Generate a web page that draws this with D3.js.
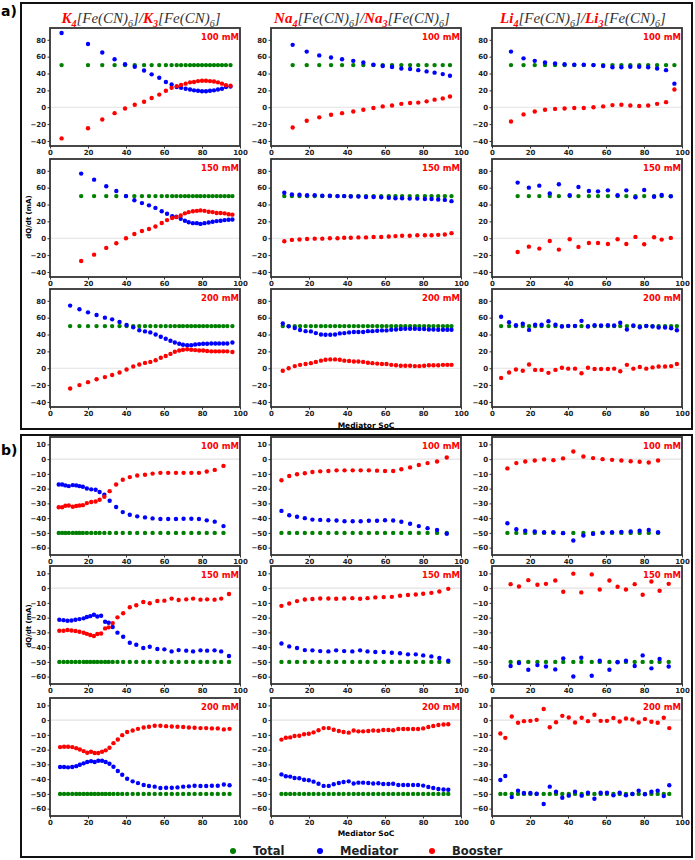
<!DOCTYPE html>
<html>
<head>
<meta charset="utf-8">
<script src="https://cdn.jsdelivr.net/npm/d3@7"></script>
<style>
  body { margin: 0; background: #fff; }
  svg text { font-family: "DejaVu Sans", sans-serif; }
</style>
</head>
<body>
<svg id="fig" width="695" height="860"></svg>
<script>
// ---- data ----
const salts = ['K', 'Na', 'Li']
const concs = ['100 mM', '150 mM', '200 mM']
const seriesNames = ['Total', 'Mediator', 'Booster']
const xTicks = [0, 20, 40, 60, 80, 100]
const yTicksCharge = [-40, -20, 0, 20, 40, 60, 80]
const yTicksDischarge = [-60, -50, -40, -30, -20, -10, 0, 10]
const totalCharge = 50
const totalDischarge = -50

// a) charge -- K
const socK100c = [6.1, 20, 27.5, 34, 39.5, 44.6, 49.5, 53.5, 57.5, 61, 64, 66.7, 69, 71.4, 73.7, 75.8, 77.9, 80, 82.1, 84.2, 86.3, 88.4, 90.5, 92.6, 95]
const medK100c = [88, 75, 65, 57, 51, 48, 43.5, 39, 35, 30, 27, 24, 23, 22, 21, 20, 19.5, 19, 19, 19.5, 20, 21, 22, 24, 24.5]
const booK100c = [-37, -25, -14.5, -7, -1.5, 3, 6.5, 11, 15, 19.5, 23, 25, 26.5, 28, 29.5, 30, 31, 31.5, 31.5, 31, 30.5, 29.5, 28, 26, 25.5]
const socK150c = [16.4, 23.2, 29.6, 34.9, 40, 44.4, 48.4, 52.1, 55.5, 58.8, 61.6, 64.3, 66.5, 68.8, 71, 73, 75.2, 77.3, 79.2, 81.3, 83.5, 85.6, 87.7, 89.8, 91.9, 94, 96]
const medK150c = [76.7, 69.5, 61.6, 56, 50, 45, 41.7, 39, 36, 32, 29, 26, 25.4, 23, 20.7, 19, 17.9, 17.9, 17, 17.9, 18.7, 19.5, 20.3, 20.7, 21.5, 22, 22.2]
const booK150c = [-27, -19.5, -11.5, -6, 0, 5, 8.5, 11, 14, 18, 21.5, 24, 25, 27, 29.5, 31, 32, 32.5, 33, 32.5, 31.5, 31, 30, 30, 29.5, 28.5, 28]
const socK200c = [10.6, 15.5, 20, 24.5, 28.9, 32.7, 36.6, 40.3, 43.8, 47, 50, 52.8, 55.6, 58.3, 60.9, 63.4, 65.7, 68, 70, 72.2, 74.3, 76.4, 78.5, 80.6, 82.7, 84.9, 87, 89, 91.2, 93.3, 96]
const medK200c = [74.3, 70, 66.3, 63.2, 60, 58, 54.8, 51.3, 48.5, 45, 43.7, 42.5, 40, 37.3, 35, 32.6, 30.6, 29, 27.8, 27.4, 27.4, 28.2, 28.6, 29, 29, 29.4, 29.4, 29.4, 29.4, 29.4, 30.6]
const booK200c = [-24, -20, -16.5, -13, -10.5, -8, -5, -1.5, 2, 4.5, 6.3, 7.5, 9.5, 12.5, 14.5, 17, 19.5, 21, 22, 22.5, 22, 21.5, 21, 21, 20.5, 20, 20, 20, 20, 20, 19.3]

// a) charge -- Na
const socNa100c = [11.4, 18.8, 25.4, 31.6, 37.4, 43.3, 48.6, 53.9, 58.8, 63.7, 68.6, 73.2, 77.5, 81.9, 86.1, 90.4, 94.2]
const medNa100c = [74, 66, 61.5, 59, 57, 55, 53, 50.5, 49, 47.7, 46, 45.3, 44, 42.5, 41, 39.3, 37.3]
const booNa100c = [-24, -16, -12, -9, -7, -5, -3, -1, 1, 2, 4, 5, 5.5, 7, 9, 10.5, 12.7]
const socNa150c = [7, 11, 15, 19, 23, 27, 31, 35, 38.5, 42, 46, 50, 54, 58, 62, 65.5, 69, 73, 77, 81, 84.5, 88, 91.5, 95]
const medNa150c = [54, 52, 51.5, 51, 51, 50.5, 50.5, 50, 50, 49.5, 49.5, 49, 49, 48.5, 48, 47.5, 47.5, 47, 47, 46.5, 46.5, 46, 45.5, 44]
const booNa150c = [-3.5, -2, -1.5, -1, -0.5, -0.5, 0, 0, 0.5, 0.5, 1, 1, 1.5, 1.5, 2, 2.5, 3, 3, 3.5, 3.5, 3.5, 4, 4.5, 6]
const socNa200c = [6.2, 9.3, 12.5, 15.3, 18.2, 21, 23.6, 26.3, 28.7, 31.2, 33.7, 36.2, 38.6, 41.1, 43.6, 46, 48.5, 51, 53.4, 55.9, 58.4, 60.8, 63.3, 65.8, 68.3, 70.7, 73.2, 75.7, 78.1, 80.6, 83.1, 85.5, 88, 90.5, 92.8, 95]
const medNa200c = [53, 49.7, 47.7, 45.3, 44, 43.7, 41.7, 40.1, 39.7, 39.7, 40.1, 41.3, 41.7, 42.5, 42.9, 42.9, 42.9, 44, 44, 44.5, 44.9, 44.9, 45.7, 46, 46.5, 46.9, 46.9, 46.9, 46.5, 46.5, 46, 46, 45.7, 45.7, 45.7, 45.7]
const booNa200c = [-3, 0, 2.5, 4, 5, 6, 7.5, 9, 10, 10.5, 10.5, 10, 9, 8.5, 8, 8, 7.5, 6.5, 6, 5.5, 5, 5, 4, 3.5, 3, 3, 3, 2.5, 2.5, 3, 3.5, 3.5, 3.5, 4, 4, 4]

// a) charge -- Li
const socLi100c = [10, 16.6, 22.5, 27.9, 33.2, 38.2, 43.3, 48.3, 53.4, 58.5, 63.4, 68.1, 72.8, 77.5, 82.2, 86.9, 91.6, 96]
const medLi100c = [66, 58, 55, 53, 52, 51, 50.5, 50.5, 50, 49, 47.5, 47.5, 48, 48, 47.5, 46, 44, 28]
const booLi100c = [-17, -8.5, -5, -3, -2, -1.5, -1, -1, 0, 1, 2.5, 3, 2, 1.5, 2, 4, 6, 21]
const socLi150c = [13.5, 19.4, 24.9, 30.4, 35.2, 40.9, 45.5, 51, 55.8, 61, 66.1, 70.7, 75.5, 80.1, 85.3, 89.3, 94.1]
const medLi150c = [66, 60, 62.4, 53.2, 64, 51, 60.8, 56, 55.6, 56.8, 51, 56.8, 48.5, 57.2, 49.3, 51.3, 49.7]
const booLi150c = [-16.3, -10, -12.3, -3.2, -13.5, -1.2, -10.3, -5.6, -5.6, -6.8, -1.2, -6.8, 1.6, -7.2, 1.2, -1.6, 0.4]
const socLi200c = [4.8, 9, 12.6, 16.2, 19.5, 22.7, 26.1, 29.7, 33.4, 36.8, 40.1, 43.7, 47.1, 50.5, 54, 57.4, 61, 64.3, 67.5, 71, 74.4, 77.8, 81.2, 84.5, 87.7, 91.1, 94.3, 97.3]
const medLi200c = [61, 54.6, 51, 52.7, 45.5, 51.5, 51.5, 55.8, 51.5, 49.5, 50.3, 50.3, 56.2, 49.5, 51, 50.7, 51, 50.7, 53.9, 46, 50.7, 48.7, 50.3, 49.5, 48.3, 48.3, 47.5, 45.1]
const booLi200c = [-11.5, -5, -1.5, -3, 4.5, -2, -2, -5.5, -2, 0.5, -0.5, -0.5, -6, 0.5, -1, -1, -1, -0.5, -3.5, 4, -0.5, 1.5, -0.5, 1, 2, 2, 2.5, 5]

// b) discharge -- K
const socK100d = [4.6, 6.4, 8.1, 9.9, 12, 13.8, 15.5, 17.3, 19.4, 21.7, 24, 26.1, 28.6, 31.4, 34.8, 38.3, 42, 45.9, 50, 54, 58.1, 62.2, 66.3, 70.3, 74.4, 78.4, 82.5, 86.7, 91.3]
const medK100d = [-17.2, -17.2, -17.8, -18.3, -17.6, -17.8, -18.3, -18.7, -19.9, -20.5, -20.8, -22.3, -24.2, -28.2, -32.5, -35.9, -37.7, -38.8, -39.5, -40.2, -40.6, -40.6, -40.6, -40.4, -40.4, -40.6, -41.5, -42.4, -45.4]
const booK100d = [-32.6, -32.6, -31.6, -31.4, -32.3, -31.8, -31.4, -31.2, -29.8, -29.1, -28.7, -27.5, -25.5, -21.7, -17.2, -14, -12.2, -11.1, -10.6, -9.8, -9.3, -9.3, -9.3, -9.3, -9.3, -9.3, -8.4, -7.3, -4.6]
const socK150d = [4.9, 7.1, 9.2, 11.3, 13.4, 15.5, 17.7, 19.4, 21.2, 23.1, 24.9, 26.9, 29, 30.9, 33, 35.5, 38.5, 42, 45.4, 49.1, 52.5, 56.5, 60.2, 64, 67.7, 71.7, 75.3, 79.2, 82.7, 86.6, 90.1, 94.2]
const medK150d = [-21.4, -21.7, -22.1, -21.9, -21.4, -21, -20.5, -19.6, -19, -18, -19.2, -18.7, -22.8, -23.5, -26.4, -30.2, -33, -37, -38.4, -40.6, -39.7, -41.3, -41.5, -42.9, -42, -42.4, -42.9, -42.2, -42.4, -42.2, -42.9, -46]
const booK150d = [-28.9, -28.9, -28.4, -28.7, -29.1, -29.6, -30.3, -31, -31.8, -32.5, -31.1, -30.8, -27.3, -26.6, -23.7, -19.8, -17, -13, -11.6, -9.4, -10.3, -8.7, -8.5, -7.1, -8, -7.6, -7.1, -7.8, -7.6, -7.8, -7.1, -4]
const socK200d = [5.3, 7.4, 9.5, 11.7, 13.8, 15.7, 17.7, 19.6, 21.6, 23.5, 25.4, 27.4, 29.3, 31.3, 33.4, 35.7, 38, 40.6, 43.5, 46.3, 49.3, 52.1, 55.1, 58.1, 61.1, 64.1, 67.1, 70.1, 73.1, 76.1, 79.2, 82.2, 85.2, 88.3, 91.5, 94.5]
const medK200d = [-31.8, -31.8, -32, -31.8, -31.2, -30.3, -29.3, -28.4, -27.8, -28.4, -27.5, -27.5, -28.4, -29.6, -31.6, -34.5, -37, -39.7, -41.5, -42.7, -44, -44.7, -45.1, -46, -45.8, -45.8, -45.6, -45.1, -44.9, -44.5, -44.7, -44.7, -44.5, -44.5, -43.6, -44.2]
const booK200d = [-18.3, -18.1, -18.1, -18.3, -19, -19.9, -21, -22.1, -21.4, -22.3, -22.3, -21.4, -20.5, -18.7, -15.6, -13.1, -10.2, -8.1, -7, -5.9, -5, -4.5, -3.8, -3.8, -4.1, -4.3, -4.5, -4.7, -5, -5.2, -5.4, -5.4, -5.6, -5.6, -6.3, -5.9]

// b) discharge -- Na
const socNa100d = [5.5, 9.6, 13.7, 17.8, 21.8, 25.9, 30.2, 34.5, 38.7, 43, 47.2, 51.5, 55.8, 60, 64.3, 68.6, 73.2, 77.8, 82.4, 87.4, 92.5]
const medNa100d = [-35.1, -38, -39.1, -40, -41, -41.2, -41.4, -41.6, -42.1, -42.1, -42.1, -41.8, -41.8, -41.4, -41.6, -42.5, -43.8, -45.4, -46.8, -48.1, -50.6]
const booNa100d = [-14.3, -11.4, -10.3, -9.6, -8.7, -8.3, -8.1, -7.6, -7.6, -7.6, -7.6, -7.6, -7.8, -8.1, -8.1, -6.9, -5.6, -4, -2.7, -1.6, 1.1]
const socNa150d = [5.5, 9.6, 13.7, 17.8, 21.8, 25.9, 30.2, 34.3, 38.5, 42.8, 46.9, 50.8, 54.9, 59.3, 63.6, 67.9, 72.1, 76.2, 80.1, 84.4, 88.6, 93.3]
const medNa150d = [-37.5, -39.5, -40.6, -42, -42.2, -42.7, -42.9, -42.2, -42.7, -42.9, -42.2, -42.9, -43.3, -43.3, -43.8, -44.2, -44.9, -44.9, -45.6, -46.3, -47.4, -49.2]
const booNa150d = [-12, -10.4, -8.8, -7.7, -7.4, -7, -7, -7.2, -7, -6.8, -7.2, -6.8, -6.3, -6.1, -5.9, -5.2, -4.7, -4.3, -3.8, -3.2, -2.3, -0.5]
const socNa200d = [5.5, 7.8, 10.1, 12.4, 14.9, 17.4, 19.9, 22.4, 25, 27.7, 30.4, 33, 35.7, 38.2, 40.9, 43.5, 46, 48.5, 51.2, 53.8, 56.5, 59.1, 61.8, 64.3, 67, 69.6, 72.1, 74.8, 77.4, 80.1, 82.8, 85.4, 88.1, 90.8, 93.3]
const medNa200d = [-36.8, -38.1, -38.3, -39.2, -39.4, -40.4, -40.8, -41.7, -43.1, -44.6, -44.6, -43.5, -42.6, -41.9, -41.5, -43, -42.4, -42.4, -42.6, -43, -42.8, -43.3, -43.3, -43.1, -44, -44, -44, -44, -44, -44.4, -45.3, -46, -46.7, -47, -47.2]
const booNa200d = [-13.2, -11.9, -11.7, -10.8, -10.6, -9.6, -9.2, -8.3, -6.9, -5.4, -5.4, -6.5, -7.4, -8.1, -8.5, -7, -7.6, -7.6, -7.4, -7, -7.2, -6.7, -6.7, -6.9, -6, -6, -6, -6, -6, -5.6, -4.7, -4, -3.3, -3, -2.8]

// b) discharge -- Li
const socLi100d = [8.1, 12.8, 17.5, 22.5, 27.4, 32.3, 37.4, 42.8, 48.1, 53.2, 58.2, 63.2, 68.1, 73, 77.7, 82.5, 87.4]
const medLi100d = [-43.5, -47.5, -48.6, -49.1, -49.5, -49.5, -50.2, -55.2, -51.8, -50.7, -49.8, -49.5, -49.3, -49.1, -48.6, -48, -49.5]
const booLi100d = [-6.3, -2.7, -1.6, -0.9, -0.2, -0.7, 0.5, 5.2, 1.8, 0.7, 0, -0.5, -0.9, -1.4, -1.8, -2.3, -0.9]
const socLi150d = [9.8, 14.2, 19.1, 23.9, 28.4, 33.3, 37.5, 42.8, 47, 52.5, 56.7, 61.8, 66.1, 70.5, 75.1, 79.3, 83.9, 88.2, 93]
const medLi150d = [-52.8, -50.8, -55.3, -52.2, -53.1, -55.1, -47.6, -59.9, -47.2, -59.4, -49.2, -55.3, -50.3, -49.2, -52.8, -45.6, -54.4, -48.1, -53.1]
const booLi150d = [2.7, 1.1, 5.4, 2.3, 2.9, 5.2, -2.5, 9.8, -2.9, 9.3, -0.9, 5.2, 0.9, -0.9, 2.7, -4.5, 4.5, -1.8, 2.9]
const socLi200d = [4.4, 7, 10.4, 13.7, 16.8, 20.2, 23.5, 27.2, 30.4, 33.7, 37, 40.4, 43.7, 47.2, 50.5, 53.9, 57.2, 60.5, 63.9, 67.2, 70.5, 73.9, 77.2, 80.5, 83.9, 87.2, 90.4, 93.3]
const medLi200d = [-40.6, -37.9, -52.2, -47.8, -49.4, -49.4, -49.9, -56.9, -45.1, -48.5, -52.6, -51.2, -48.5, -51.2, -49.2, -53.3, -49.2, -49.2, -51, -49.2, -51, -50.1, -47.8, -50.3, -48.5, -47.8, -51.5, -44.2]
const booLi200d = [-9.1, -12, 2.5, -1.8, -0.7, -0.5, 0.2, 7.5, -4.8, -1.4, 2.9, 1.8, -1.6, 1.6, -0.7, 3.6, -0.5, -0.5, 1.4, -0.9, 1.1, 0.5, -1.6, 0.7, -1.1, -1.8, 1.6, -5.4]

// rows = concentration, cols = salt
const chargePanels = [
    [[socK100c, medK100c, booK100c], [socNa100c, medNa100c, booNa100c], [socLi100c, medLi100c, booLi100c]],
    [[socK150c, medK150c, booK150c], [socNa150c, medNa150c, booNa150c], [socLi150c, medLi150c, booLi150c]],
    [[socK200c, medK200c, booK200c], [socNa200c, medNa200c, booNa200c], [socLi200c, medLi200c, booLi200c]]
]
const dischargePanels = [
    [[socK100d, medK100d, booK100d], [socNa100d, medNa100d, booNa100d], [socLi100d, medLi100d, booLi100d]],
    [[socK150d, medK150d, booK150d], [socNa150d, medNa150d, booNa150d], [socLi150d, medLi150d, booLi150d]],
    [[socK200d, medK200d, booK200d], [socNa200d, medNa200d, booNa200d], [socLi200d, medLi200d, booLi200d]]
]

// ---- layout ----
const scheme = {green: '#008000', blue: '#0000ff', red: '#ff0000'}
const colors = Object.values(scheme)
const colLeft = [50, 271, 492]
const plotW = 190
const plotH = 118
const dotR = 2.2

const svg = d3.select('#fig')

const blocks = [
    {tag: 'a)', tagY: 16, box: [21, 3, 671, 426], rowTop: [28, 159, 289], yDomain: [-46, 94],
     yTicks: yTicksCharge, total: totalCharge, panels: chargePanels, yLabelY: 217, socY: 428},
    {tag: 'b)', tagY: 455, box: [21, 435, 671, 422], rowTop: [437, 566, 698], yDomain: [-65, 15],
     yTicks: yTicksDischarge, total: totalDischarge, panels: dischargePanels, yLabelY: 626, socY: 836}
]

blocks.forEach(b => {
    svg.append('rect')
        .attr('x', b.box[0]).attr('y', b.box[1])
        .attr('width', b.box[2]).attr('height', b.box[3])
        .attr('fill', 'none').attr('stroke', '#111').attr('stroke-width', 2)
    svg.append('text')
        .attr('x', 1).attr('y', b.tagY)
        .style('font-size', '14px').style('font-weight', 'bold')
        .text(b.tag)

    b.panels.forEach((row, r) => {
        row.forEach((series, c) => {
            drawPanel(colLeft[c], b.rowTop[r], b, series, concs[r])
        })
    })

    svg.append('text')
        .attr('transform', `translate(31,${b.yLabelY}) rotate(-90)`)
        .attr('text-anchor', 'middle')
        .style('font-size', '7px').style('font-weight', 'bold')
        .text('dQ/dt (mA)')
    svg.append('text')
        .attr('x', colLeft[1] + plotW / 2).attr('y', b.socY)
        .attr('text-anchor', 'middle')
        .style('font-size', '7.5px').style('font-weight', 'bold')
        .text('Mediator SoC')
})

function drawPanel(left, top, block, series, conc) {
    const [soc, med, boo] = series
    const x = d3.scaleLinear().domain([0, 100]).range([left, left + plotW])
    const y = d3.scaleLinear().domain(block.yDomain).range([top + plotH, top])
    const g = svg.append('g')

    g.append('line')
        .attr('x1', left).attr('x2', left + plotW)
        .attr('y1', y(0)).attr('y2', y(0))
        .attr('stroke', '#e2e2e2').attr('stroke-width', 1.2)

    const layers = [soc.map(() => block.total), med, boo]
    layers.forEach((vals, i) => {
        g.append('g').selectAll('circle')
            .data(soc.map((s, k) => [s, vals[k]]))
            .enter()
            .append('circle')
            .attr('cx', d => x(d[0]))
            .attr('cy', d => y(d[1]))
            .attr('r', dotR)
            .attr('fill', colors[i])
    })

    g.append('rect')
        .attr('x', left).attr('y', top)
        .attr('width', plotW).attr('height', plotH)
        .attr('fill', 'none').attr('stroke', '#333').attr('stroke-width', 1.8)

    const xa = g.append('g')
        .attr('transform', `translate(0,${top + plotH})`)
        .call(d3.axisBottom(x).tickValues(xTicks).tickSize(2.5).tickPadding(1.5))
    const ya = g.append('g')
        .attr('transform', `translate(${left},0)`)
        .call(d3.axisLeft(y).tickValues(block.yTicks).tickSize(2.5).tickPadding(1.5))
    ;[xa, ya].forEach(a => {
        a.select('.domain').remove()
        a.selectAll('line').attr('stroke', '#333')
        a.selectAll('text')
            .attr('fill', '#222')
            .style('font-size', '7px').style('font-weight', 'bold')
            .style('font-family', '"DejaVu Sans", sans-serif')
    })

    g.append('text')
        .attr('x', left + plotW - 1).attr('y', top + 12)
        .attr('text-anchor', 'end')
        .attr('fill', scheme.red)
        .style('font-size', '8.5px').style('font-weight', 'bold')
        .text(conc)
}

// column titles, e.g. K4[Fe(CN)6]/K3[Fe(CN)6]
salts.forEach((salt, c) => {
    const t = svg.append('text')
        .attr('x', colLeft[c] + plotW / 2 - 4).attr('y', 23)
        .attr('text-anchor', 'middle')
        .attr('fill', '#333')
        .style('font-family', '"Liberation Serif", serif')
        .style('font-style', 'italic')
        .style('font-size', '15px')
    const parts = [
        [salt, true, 0], ['4', true, 4], ['[Fe(CN)', false, -4], ['6', false, 4], [']/', false, -4],
        [salt, true, 0], ['3', true, 4], ['[Fe(CN)', false, -4], ['6', false, 4], [']', false, -4]
    ]
    parts.forEach(([txt, red, dy]) => {
        const sp = t.append('tspan').attr('dy', dy).text(txt)
        if (red) sp.attr('fill', scheme.red).style('font-weight', 'bold')
        if (dy > 0) sp.style('font-size', '10px')
    })
})

// legend
const legendX = [233, 320, 432]
seriesNames.forEach((name, i) => {
    svg.append('circle')
        .attr('cx', legendX[i]).attr('cy', 851)
        .attr('r', 3).attr('fill', colors[i])
    svg.append('text')
        .attr('x', legendX[i] + 20).attr('y', 855)
        .style('font-size', '11.5px').style('font-weight', 'bold')
        .attr('fill', '#222')
        .text(name)
})
</script>
</body>
</html>
